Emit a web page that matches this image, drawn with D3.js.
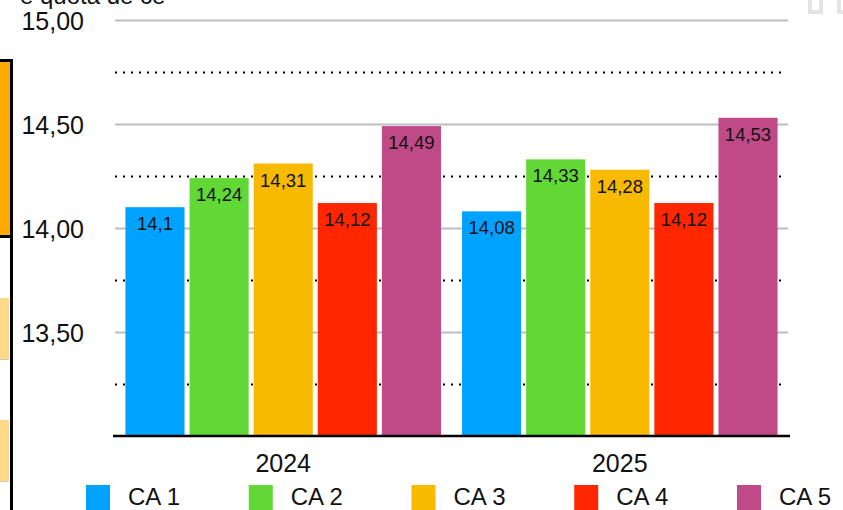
<!DOCTYPE html>
<html><head><meta charset="utf-8">
<script src="https://cdn.jsdelivr.net/npm/d3@7"></script>
<style>html,body{margin:0;padding:0;background:#fff;overflow:hidden}</style>
</head><body>
<svg id="c" width="843" height="510"></svg>
<script>
const years = ["2024", "2025"];
const series = ["CA 1", "CA 2", "CA 3", "CA 4", "CA 5"];
const values2024 = [14.1, 14.24, 14.31, 14.12, 14.49];
const values2025 = [14.08, 14.33, 14.28, 14.12, 14.53];
const colors = ["#00A2FF", "#61D836", "#F8BA00", "#FF2600", "#C04A87"];
const solidTicks = [13.5, 14, 14.5, 15];
const dottedTicks = [13.25, 13.75, 14.25, 14.75];

const data = years.map((y, i) => ({year: y, vals: (i === 0 ? values2024 : values2025)}));
const svg = d3.select("#c");
const font = "'Liberation Sans', Arial, Helvetica, sans-serif";

const y = d3.scaleLinear().domain([13, 15]).range([436, 20]);
const x0 = d3.scaleBand().domain(years).range([115, 788]).paddingInner(0.0625).paddingOuter(0.031);
const x1 = d3.scaleBand().domain(series).range([0, x0.bandwidth()]).paddingInner(0.078).paddingOuter(0);
const color = d3.scaleOrdinal().domain(series).range(colors);
const loc = d3.formatLocale({decimal: ",", thousands: ".", grouping: [3], currency: ["", " €"]});
const f2 = loc.format(".2f");

// background decorations (cropped UI)
svg.append("text").attr("x", 20).attr("y", 4).attr("font-family", font).attr("font-size", 24).attr("fill", "#111").text("e quota de ce");
svg.append("path").attr("d", "M810,-6 V12 H821 V-6 M839,-6 V12 H850").attr("fill", "none").attr("stroke", "#E4E4E4").attr("stroke-width", 4);
svg.append("rect").attr("x", 0).attr("y", 61).attr("width", 10).attr("height", 175).attr("fill", "#FFAA00");
svg.append("rect").attr("x", 0).attr("y", 298).attr("width", 9).attr("height", 61).attr("fill", "#FFD98A");
svg.append("rect").attr("x", 0).attr("y", 420).attr("width", 9).attr("height", 61).attr("fill", "#FFD98A");
svg.append("rect").attr("x", 0).attr("y", 359).attr("width", 9).attr("height", 1).attr("fill", "#ccc");
svg.append("rect").attr("x", 0).attr("y", 481).attr("width", 9).attr("height", 1).attr("fill", "#ccc");
svg.append("rect").attr("x", 0).attr("y", 59).attr("width", 13).attr("height", 3).attr("fill", "#000");
svg.append("rect").attr("x", 0).attr("y", 235).attr("width", 13).attr("height", 3).attr("fill", "#000");
svg.append("rect").attr("x", 10).attr("y", 59).attr("width", 3).attr("height", 460).attr("fill", "#000");

// solid gridlines
const grid = svg.append("g").attr("transform", "translate(115,0)")
  .call(d3.axisLeft(y).tickValues(solidTicks).tickSize(-673).tickFormat(""));
grid.select(".domain").remove();
grid.selectAll("line").attr("stroke", "#BDBDBD").attr("stroke-width", 2);

// dotted gridlines
const dg = svg.append("g").attr("transform", "translate(115,0)")
  .call(d3.axisLeft(y).tickValues(dottedTicks).tickSize(-670).tickFormat(""));
dg.select(".domain").remove();
dg.selectAll("line").attr("stroke", "#000").attr("stroke-width", 2).attr("stroke-dasharray", "2,6");

// tick labels
const ax = svg.append("g").attr("transform", "translate(84,0)")
  .call(d3.axisLeft(y).tickValues(solidTicks).tickSize(0).tickPadding(0).tickFormat(f2));
ax.select(".domain").remove();
ax.selectAll("text").attr("font-family", font).attr("font-size", 25).attr("fill", "#111").attr("dy", "0.36em");

// bars
const g = svg.selectAll("g.grp").data(data).enter().append("g").attr("class", "grp")
  .attr("transform", d => `translate(${x0(d.year)},0)`);
const bars = g.selectAll("g.b").data(d => d.vals.map((v, i) => ({s: series[i], v}))).enter().append("g");
bars.append("rect")
  .attr("x", d => x1(d.s)).attr("width", x1.bandwidth())
  .attr("y", d => y(d.v)).attr("height", d => y(13) - y(d.v))
  .attr("fill", d => color(d.s));
bars.append("text")
  .attr("x", d => x1(d.s) + x1.bandwidth() / 2).attr("y", d => y(d.v) + 23)
  .attr("text-anchor", "middle").attr("font-family", font).attr("font-size", 18.5).attr("fill", "#111")
  .text(d => String(d.v).replace(".", ","));

// baseline
svg.append("line").attr("x1", 113).attr("x2", 790).attr("y1", y(13)).attr("y2", y(13)).attr("stroke", "#000").attr("stroke-width", 2.5);

// year labels
svg.selectAll("text.yr").data(years).enter().append("text").attr("class", "yr")
  .attr("x", d => x0(d) + x0.bandwidth() / 2).attr("y", 472)
  .attr("text-anchor", "middle").attr("font-family", font).attr("font-size", 25).attr("fill", "#111").text(d => d);

// legend
const lx = d3.scalePoint().domain(series).range([86, 737]);
const lg = svg.selectAll("g.lg").data(series).enter().append("g").attr("class", "lg")
  .attr("transform", d => `translate(${lx(d)},485)`);
lg.append("rect").attr("width", 24).attr("height", 26).attr("fill", d => color(d));
lg.append("text").attr("x", 42).attr("y", 20).attr("font-family", font).attr("font-size", 24).attr("fill", "#111").text(d => d);
</script>
</body></html>
